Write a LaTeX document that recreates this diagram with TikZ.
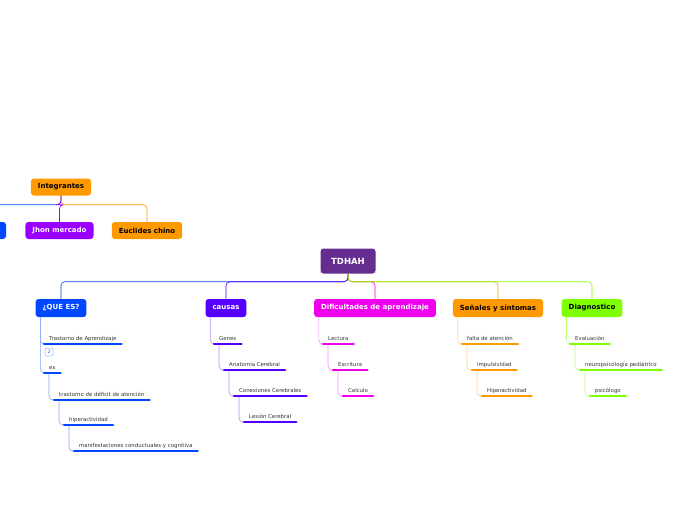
\documentclass[tikz,border=0pt]{standalone}
\usepackage{fontspec}
\setmainfont{DejaVu Sans}
\usetikzlibrary{positioning}

\definecolor{rootpurple}{HTML}{662D91}
\definecolor{qblue}{HTML}{0048FF}
\definecolor{cviolet}{HTML}{5500FF}
\definecolor{dmagenta}{HTML}{EE00EE}
\definecolor{sorange}{HTML}{FF9900}
\definecolor{glime}{HTML}{80FF00}
\definecolor{jpurple}{HTML}{9900FF}
\definecolor{itemgray}{HTML}{333333}

\begin{document}
\begin{tikzpicture}[x=1pt,y=-1pt,
    topic/.style={rounded corners=3pt,minimum height=18pt,inner xsep=7pt,inner ysep=0pt,
      font=\fontsize{7}{8}\selectfont\bfseries,text=white},
    item/.style={anchor=south west,inner xsep=5pt,inner ysep=2pt,text height=4pt,text depth=1pt,
      font=\fontsize{5.4}{6}\selectfont,text=itemgray},
    bar/.style={line width=2.5pt,line cap=round},
    link/.style={line width=0.6pt,rounded corners=4pt}]
    \useasboundingbox (0,0) rectangle (696,520);
    \clip (0,0) rectangle (696,520);

    % central topic
    \node[topic,fill=rootpurple,minimum width=55pt,minimum height=25pt,
      font=\fontsize{8.5}{9}\selectfont\bfseries] (root) at (348,261) {TDHAH};

    \node[topic,fill=qblue] (que) at (61,308) {¿QUE ES?};
    \node[topic,fill=cviolet] (causas) at (226,308) {causas};
    \node[topic,fill=dmagenta] (dific) at (375,308) {Dificultades de aprendizaje};
    \node[topic,fill=sorange,text=black] (senales) at (498,308) {Señales y síntomas};
    \node[topic,fill=glime,text=black] (diag) at (592,308) {Diagnostico};

    % floating topic
    \node[topic,fill=sorange,text=black,minimum height=17pt] (integ) at (61,187) {Integrantes};
    \node[topic,fill=qblue,minimum height=17pt,minimum width=72pt] (hidden) at (-30,230.5) {};
    \node[topic,fill=jpurple,minimum height=17pt] (jhon) at (59.5,230.5) {Jhon mercado};
    \node[topic,fill=sorange,text=black,minimum height=17pt] (euclides) at (147,230.5) {Euclides chino};

    % sub items
    \node[item] (tda) at (44,344) {Trastorno de Aprendizaje};
    \node[item] (es) at (44,373) {es};
    \node[item] (tdda) at (54,400) {trastorno de déficit de atención};
    \node[item] (hiper) at (64,425) {hiperactividad};
    \node[item] (manif) at (74,451) {manifestaciones conductuales y cognitiva};

    \node[item] (genes) at (214,344) {Genes};
    \node[item] (anat) at (224,370) {Anatomía Cerebral};
    \node[item] (conex) at (234,396) {Conexiones Cerebrales};
    \node[item] (lesion) at (244,422) {Lesión Cerebral};

    \node[item] (lect) at (323,344) {Lectura};
    \node[item] (escr) at (333,370) {Escritura};
    \node[item] (calc) at (343,396) {Calculo};

    \node[item] (falta) at (462,344) {falta de atención};
    \node[item] (impul) at (472,370) {impulsividad};
    \node[item] (hiperb) at (482,396) {Hiperactividad};

    \node[item] (eval) at (570,344) {Evaluación};
    \node[item] (neuro) at (580,370) {neuropsicología pediátrico};
    \node[item] (psico) at (590,396) {psicólogo};

    % collapsed marker
    \node[draw=qblue!45,rounded corners=1.5pt,line width=0.5pt,minimum size=8pt,inner sep=0pt,
      font=\fontsize{4.5}{5}\selectfont,text=qblue] (badge) at (49,352) {2};

    \foreach \to/\col in {que/qblue,causas/cviolet,dific/dmagenta,senales/sorange,diag/glime}
    \draw[link,\col] (root.south) -- ++(0,8) -| (\to.north);

    \foreach \to/\col in {hidden/qblue,jhon/jpurple,euclides/sorange}
    \draw[link,\col] (integ.south) -- ++(0,9) -| (\to.north);

    \foreach \from/\to/\col in {que/tda/qblue!50,que/es/qblue!50,es/tdda/qblue!50,tdda/hiper/qblue!50,
      hiper/manif/qblue!50,causas/genes/cviolet!45,genes/anat/cviolet!45,anat/conex/cviolet!45,
      conex/lesion/cviolet!45,dific/lect/dmagenta!45,lect/escr/dmagenta!45,escr/calc/dmagenta!45,
      senales/falta/sorange!45,falta/impul/sorange!45,impul/hiperb/sorange!45,
      diag/eval/glime!55,eval/neuro/glime!55,neuro/psico/glime!55}
    \draw[link,\col] ([xshift=5pt]\from.south west) |- (\to.south west);

    % underline bars
    \foreach \n/\col in {tda/qblue,es/qblue,tdda/qblue,hiper/qblue,manif/qblue,
      genes/cviolet,anat/cviolet,conex/cviolet,lesion/cviolet,
      lect/dmagenta,escr/dmagenta,calc/dmagenta,
      falta/sorange,impul/sorange,hiperb/sorange,
      eval/glime,neuro/glime,psico/glime}
    \draw[bar,\col] (\n.south west) -- (\n.south east);
\end{tikzpicture}
\end{document}
